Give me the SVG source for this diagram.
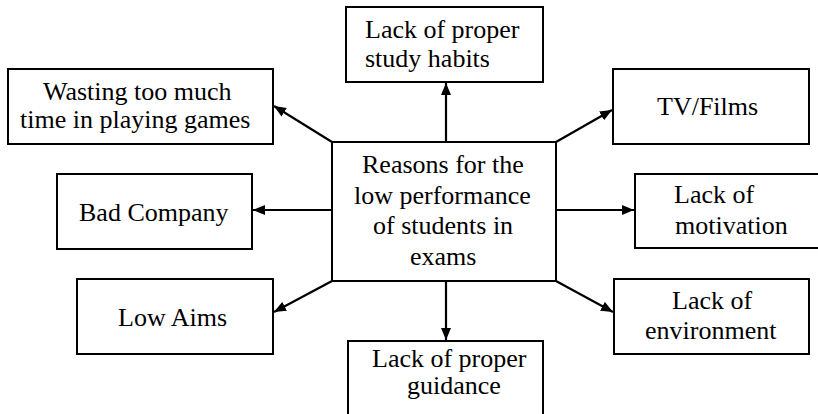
<svg xmlns="http://www.w3.org/2000/svg" width="818" height="414" viewBox="0 0 818 414">
<defs>
<marker id="ah" viewBox="0 0 12 10" refX="12" refY="5" markerWidth="12" markerHeight="10" markerUnits="userSpaceOnUse" orient="auto">
<path d="M0,0 L12,5 L0,10 z" fill="#000"/>
</marker>
</defs>
<rect width="818" height="414" fill="#fff"/>
<g id="connectors" stroke="#000" stroke-width="2.2">
<line x1="332" y1="142" x2="274" y2="106" marker-end="url(#ah)"/>
<line x1="446" y1="142" x2="446" y2="83" marker-end="url(#ah)"/>
<line x1="556" y1="142" x2="612" y2="110" marker-end="url(#ah)"/>
<line x1="332" y1="210" x2="253" y2="210" marker-end="url(#ah)"/>
<line x1="556" y1="210" x2="634" y2="210" marker-end="url(#ah)"/>
<line x1="332" y1="281" x2="274" y2="312" marker-end="url(#ah)"/>
<line x1="446" y1="281" x2="446" y2="340" marker-end="url(#ah)"/>
<line x1="556" y1="281" x2="613" y2="312" marker-end="url(#ah)"/>
</g>
<g id="center">
<rect x="332" y="142" width="224" height="139" fill="#fff" stroke="#000" stroke-width="2"/>
<text x="362" y="173" style="font-family:'Liberation Serif';font-size:26px">Reasons for the</text>
<text x="354" y="204" style="font-family:'Liberation Serif';font-size:26px">low performance</text>
<text x="373" y="234" style="font-family:'Liberation Serif';font-size:26px">of students in</text>
<text x="410" y="265" style="font-family:'Liberation Serif';font-size:26px">exams</text>
</g>
<g id="study-habits">
<rect x="346" y="7" width="197" height="75" fill="#fff" stroke="#000" stroke-width="2"/>
<text x="365" y="38" style="font-family:'Liberation Serif';font-size:26px">Lack of proper</text>
<text x="365" y="67" style="font-family:'Liberation Serif';font-size:26px">study habits</text>
</g>
<g id="wasting">
<rect x="8" y="69" width="265" height="75" fill="#fff" stroke="#000" stroke-width="2"/>
<text x="43" y="100" style="font-family:'Liberation Serif';font-size:26px">Wasting too much</text>
<text x="20" y="128" style="font-family:'Liberation Serif';font-size:26px">time in playing games</text>
</g>
<g id="tv-films">
<rect x="613" y="69" width="196" height="75" fill="#fff" stroke="#000" stroke-width="2"/>
<text x="657" y="115" style="font-family:'Liberation Serif';font-size:26px">TV/Films</text>
</g>
<g id="bad-company">
<rect x="57" y="174" width="195" height="75" fill="#fff" stroke="#000" stroke-width="2"/>
<text x="79" y="221" style="font-family:'Liberation Serif';font-size:26px">Bad Company</text>
</g>
<g id="motivation">
<rect x="635" y="174" width="200" height="74" fill="#fff" stroke="#000" stroke-width="2"/>
<text x="674" y="203" style="font-family:'Liberation Serif';font-size:26px">Lack of</text>
<text x="675" y="234" style="font-family:'Liberation Serif';font-size:26px">motivation</text>
</g>
<g id="low-aims">
<rect x="77" y="279" width="196" height="75" fill="#fff" stroke="#000" stroke-width="2"/>
<text x="118" y="326" style="font-family:'Liberation Serif';font-size:26px">Low Aims</text>
</g>
<g id="environment">
<rect x="614" y="279" width="195" height="75" fill="#fff" stroke="#000" stroke-width="2"/>
<text x="672" y="309" style="font-family:'Liberation Serif';font-size:26px">Lack of</text>
<text x="645" y="339" style="font-family:'Liberation Serif';font-size:26px">environment</text>
</g>
<g id="guidance">
<rect x="348" y="341" width="195" height="90" fill="#fff" stroke="#000" stroke-width="2"/>
<text x="372" y="367" style="font-family:'Liberation Serif';font-size:26px">Lack of proper</text>
<text x="407" y="394" style="font-family:'Liberation Serif';font-size:26px">guidance</text>
</g>
</svg>
